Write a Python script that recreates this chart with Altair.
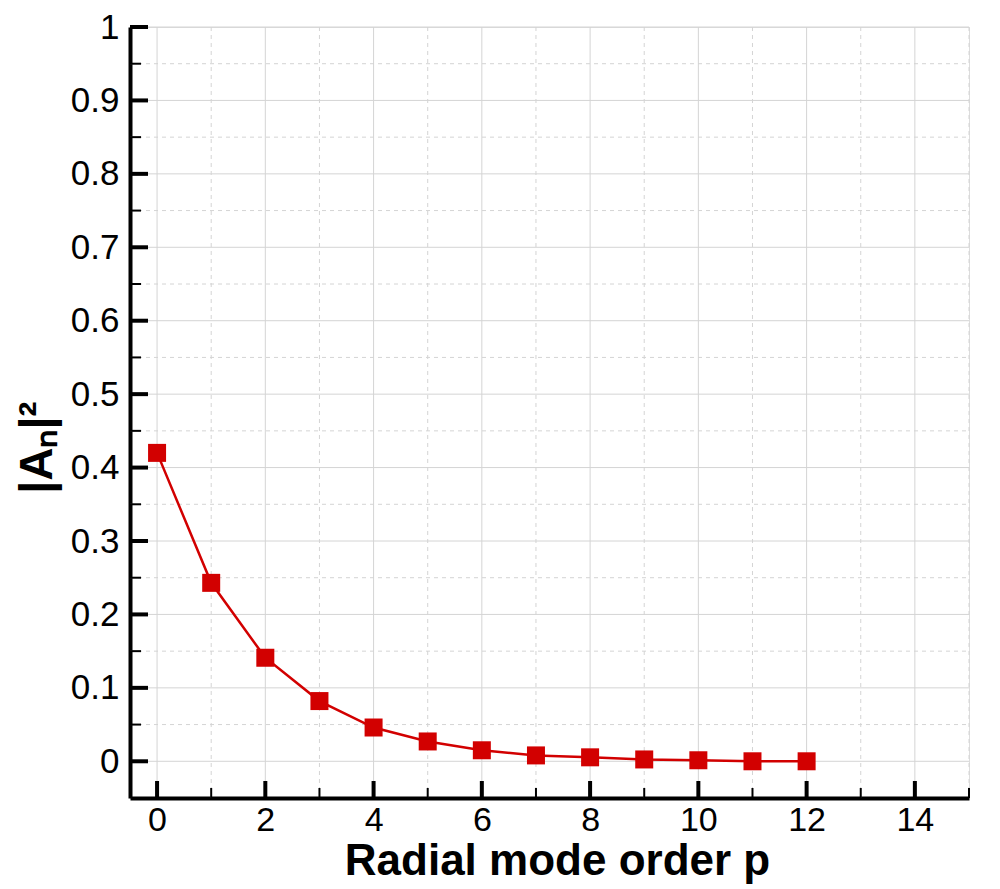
import altair as alt
import pandas as pd

# data
p_order = [0, 1, 2, 3, 4, 5, 6, 7, 8, 9, 10, 11, 12]
amp_sq = [0.420, 0.243, 0.141, 0.082, 0.046, 0.027, 0.015, 0.008, 0.0054, 0.0025, 0.0014, 0.0, 0.0]

x_major = [0, 2, 4, 6, 8, 10, 12, 14]
x_minor = [1, 3, 5, 7, 9, 11, 13, 15]
y_major = [0, 0.1, 0.2, 0.3, 0.4, 0.5, 0.6, 0.7, 0.8, 0.9, 1.0]
y_minor = [0.05, 0.15, 0.25, 0.35, 0.45, 0.55, 0.65, 0.75, 0.85, 0.95]

X_DOMAIN = [-0.5, 15]
Y_DOMAIN = [-0.05, 1]
W, H = 839, 771
FONT = "Liberation Sans"
RED = "#d20000"
GRID = "#d4d4d4"

xs = alt.Scale(domain=X_DOMAIN, nice=False, zero=False)
ys = alt.Scale(domain=Y_DOMAIN, nice=False, zero=False)

x_axis = alt.Axis(
    values=x_major, format="d", grid=False, ticks=False, tickSize=0,
    domainColor="black", domainWidth=4, labelFont=FONT, labelFontSize=34,
    labelColor="black", labelPadding=5, labelFlush=False, labelOverlap=False,
    title="Radial mode order p", titleFont=FONT, titleFontSize=44,
    titleFontWeight="bold", titleColor="black", titleX=427, titleY=76,
    titleAlign="center", titleBaseline="alphabetic",
)
y_axis = alt.Axis(
    values=y_major, format=".1~f", grid=False, ticks=False, tickSize=0,
    domainColor="black", domainWidth=4, labelFont=FONT, labelFontSize=35,
    labelColor="black", labelPadding=11, labelFlush=False, labelOverlap=False,
    title="|Aₙ|²", titleFont=FONT, titleFontSize=46, titleFontWeight="bold",
    titleColor="black", titleAngle=270, titleX=-79, titleY=420,
    titleAlign="center", titleBaseline="alphabetic",
)


def X():
    return alt.X("p:Q", scale=xs, axis=x_axis)


def Y():
    return alt.Y("a:Q", scale=ys, axis=y_axis)


df = pd.DataFrame({"p": p_order, "a": amp_sq})
dxM = pd.DataFrame({"p": x_major})
dxm = pd.DataFrame({"p": x_minor})
dyM = pd.DataFrame({"a": y_major})
dym = pd.DataFrame({"a": y_minor})

# grid
gx_major = alt.Chart(dxM).mark_rule(color=GRID, strokeWidth=1).encode(
    x=X(), y=alt.value(0), y2=alt.value(H))
gx_minor = alt.Chart(dxm).mark_rule(color=GRID, strokeWidth=1, strokeDash=[4, 4]).encode(
    x=X(), y=alt.value(0), y2=alt.value(H))
gy_major = alt.Chart(dyM).mark_rule(color=GRID, strokeWidth=1).encode(
    y=Y(), x=alt.value(0), x2=alt.value(W))
gy_minor = alt.Chart(dym).mark_rule(color=GRID, strokeWidth=1, strokeDash=[4, 4]).encode(
    y=Y(), x=alt.value(0), x2=alt.value(W))

# inward ticks
tx_major = alt.Chart(dxM).mark_rule(color="black", strokeWidth=4).encode(
    x=X(), y=alt.value(H), y2=alt.value(H - 17))
tx_minor = alt.Chart(dxm).mark_rule(color="black", strokeWidth=2).encode(
    x=X(), y=alt.value(H), y2=alt.value(H - 10))
ty_major = alt.Chart(dyM).mark_rule(color="black", strokeWidth=4).encode(
    y=Y(), x=alt.value(0), x2=alt.value(18))
ty_minor = alt.Chart(dym).mark_rule(color="black", strokeWidth=2).encode(
    y=Y(), x=alt.value(0), x2=alt.value(11))

line = alt.Chart(df).mark_line(color=RED, strokeWidth=2.5).encode(x=X(), y=Y())
pts = alt.Chart(df).mark_point(shape="square", filled=True, size=324, color=RED, opacity=1).encode(
    x=X(), y=Y())

chart = alt.layer(
    gx_major, gx_minor, gy_major, gy_minor,
    line, pts,
    tx_major, tx_minor, ty_major, ty_minor,
).properties(
    width=W, height=H,
    autosize=alt.AutoSizeParams(type="none"),
    padding={"left": 122, "top": 19, "right": 20, "bottom": 90},
).configure_view(stroke=None).configure(background="white")

chart.save("out.html", embed_options={"renderer": "svg", "actions": False})
